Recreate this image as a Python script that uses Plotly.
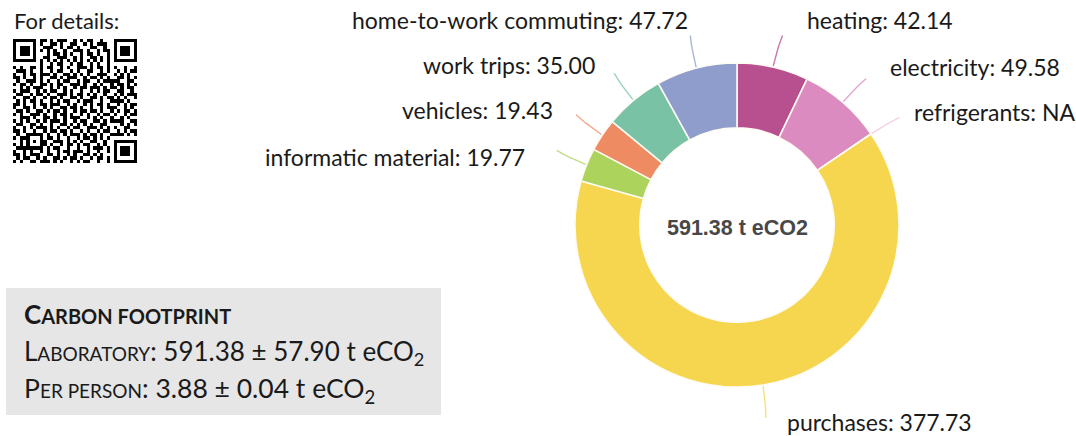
import math
import plotly.graph_objects as go

# ---------------- data ----------------
categories = ["heating", "electricity", "refrigerants", "purchases",
              "informatic material", "vehicles", "work trips",
              "home-to-work commuting"]
values = [42.14, 49.58, 0.0, 377.73, 19.77, 19.43, 35.00, 47.72]
value_text = ["42.14", "49.58", "NA", "377.73", "19.77", "19.43", "35.00", "47.72"]
total_text = "591.38 t eCO2"
lab_total = "591.38 ± 57.90"
per_person = "3.88 ± 0.04"

# ---------------- styles ----------------
slice_colors = ["#b84f8f", "#dc8bc0", "#f2c4dc", "#f7d64f",
                "#acd35c", "#ee8b63", "#79c2a5", "#8e9dcb"]
FONT = "Lato"
TXT = "#1a1a1a"
W, H = 1076, 436
CX, CY, R = 737, 225, 162          # donut centre / radius in pixels
label_pos = {                       # (x, y, anchor) for each outside label
    "heating": (805, 20, "left"),
    "electricity": (888, 67, "left"),
    "refrigerants": (912, 112, "left"),
    "purchases": (785, 422, "left"),
    "informatic material": (527, 157, "right"),
    "vehicles": (555, 110, "right"),
    "work trips": (597, 65, "right"),
    "home-to-work commuting": (690, 20, "right"),
}

# QR code modules (hand transcribed approximation), '#' = dark
qr_rows = [
    "#.##.#..##.#.###..#.#.##..#..###.#.#",
    "..#.###.#..##.#..##..#.#.###.#...##.#",
    "##..#.#..###..#.##.#...##..#.##.#..##",
    ".#.##..##.#.#..#..###.#..#.##..#.##..",
    "#..#.###..#.##.#.#..#.##.#..#.###..##",
    ".##..#.#.##..###..#.#..##.#.#..#.#.#.",
    "#.#.##..#.#.#.#.##..##.#..##.#.##..#.",
    "..##.#.##..#.##..#.##..#.#..##..#.###",
    "#.#..##.#.##..#.#..###.#.##.#.#..#..#",
    ".###.#..#..#.##..#.#..##..#.#.##.#.##",
    "#..#.##.###.#..##.#.#.#..###..#.#.#..",
    "##.#..#.#..##.#.###..#.##.#.#..##.#.#",
    ".#..###.#.#..#.##..#.##..#.###.#..##.",
    "#.##.#..##.#.##..###.#..#.#..#.##.#.#",
    "..#.#.###..#.#.#..#.##.###.#.#..#.##.",
    "#.###..#.#.##..#.#..#..#.#.##.###..#.",
    ".##..#.##.#..###.#.##.#.#..#..#.#.###",
    "#..##.#..#.##.#..##.#..##.#.##.#.#..#",
    ".#.#.##.#..#.#.##..#.###..#..#.##.#..",
    "##.#..#.##.###..#.#..#.#.##.#..#.#.##",
    "#..##.#..#.#..##.##.#..#..#.###..#.#.",
    ".##.#..##.#.##.#..#.##.##.#..#.#.##.#",
    "#.#..###.#..#.##.#..#.#..#.##.#..#.##",
    "..###.#..##.#..#.###..#.#.#..##.#.#..",
    "#.#.#..#.#.###.#..#.##..##.#.#.##..##",
    ".##..##.#..#..##.#.#.#.#..##..#.#.#.#",
    "#..#.#.###.#.#..#.##..###.#.#.#..##..",
    "##.#..#..#.##.##.#..#.#..#.##..#.#.##",
    ".#..##.##.#..#.#.###.#.##.#..#.##.#.#",
    "#.##.#..#.##.#..#..#.##.#.#.#..#..##.",
    "..#.#.##.#..###.#.#.#..##..#.##.#.#.#",
    "#.#..#..##.#..#.##.#.##..#.#..#.##..#",
    ".###.##.#.#.##..#..#..#.###.#..#.#.##",
    "#..#.#..#.#..#.##.###.#..#..##.#..#.#",
    "##.#.###..##.#..#.#..##.#.#..#.##.#..",
    ".#.##..#.#..##.#.##.#..#.##.#.#..##.#",
    "#.#..##.###.#.#..#.#.##..#..##.#.#.##",
]
N = 37
qr = [[1 if c == "#" else 0 for c in (row.ljust(N, ".")[:N])] for row in qr_rows[:N]]


def finder(r0, c0):
    for dr in range(-1, 8):
        for dc in range(-1, 8):
            r, c = r0 + dr, c0 + dc
            if 0 <= r < N and 0 <= c < N:
                if 0 <= dr <= 6 and 0 <= dc <= 6:
                    ring = max(abs(dr - 3), abs(dc - 3))
                    qr[r][c] = 0 if ring == 2 else 1
                else:
                    qr[r][c] = 0


finder(0, 0)
finder(0, N - 7)
finder(N - 7, N - 7)
for i in range(8, N - 8):
    qr[6][i] = 1 if i % 2 == 0 else 0
    qr[i][N - 7] = 1 if i % 2 == 0 else 0
for dr in range(-2, 3):
    for dc in range(-2, 3):
        ring = max(abs(dr), abs(dc))
        qr[N - 7 + dr][6 + dc] = 0 if ring == 1 else 1

fig = go.Figure()

# donut
fig.add_trace(go.Pie(
    labels=categories, values=values, hole=0.6, sort=False,
    direction="clockwise", rotation=0,
    marker=dict(colors=slice_colors, line=dict(color="#fdfbf2", width=1.6)),
    textinfo="none", hoverinfo="label+value", showlegend=False,
    domain=dict(x=[(CX - R) / W, (CX + R) / W],
                y=[(H - CY - R) / H, (H - CY + R) / H]),
))

# leader lines derived from slice angles
tot = sum(values)
cum = 0.0
for name, v, col in zip(categories, values, slice_colors):
    mid = (cum + v / 2) / tot * 2 * math.pi
    cum += v
    xs, ys = [], []
    for k in range(6):
        rr = R + 1 + k * 6.4
        a = mid + (k / 5) ** 2 * 0.012
        xs.append(CX + rr * math.sin(a))
        ys.append(CY - rr * math.cos(a))
    fig.add_trace(go.Scatter(x=xs, y=ys, mode="lines", hoverinfo="skip",
                             line=dict(color=col, width=1.4), opacity=0.75,
                             showlegend=False, xaxis="x", yaxis="y"))

# QR code
fig.add_trace(go.Heatmap(z=qr, colorscale=[[0, "white"], [1, "black"]],
                         showscale=False, hoverinfo="skip",
                         xaxis="x2", yaxis="y2", zmin=0, zmax=1))

annotations = []
for name, vt in zip(categories, value_text):
    x, y, anc = label_pos[name]
    annotations.append(dict(x=x, y=y, xref="x", yref="y", xanchor=anc,
                            yanchor="middle", showarrow=False,
                            text=f"{name}: {vt}",
                            font=dict(family=FONT, size=23, color=TXT)))

annotations.append(dict(x=CX, y=CY + 3, xref="x", yref="y", showarrow=False,
                        text=f"<b>{total_text}</b>",
                        font=dict(family="Liberation Sans", size=21.5, color="#484848")))

annotations.append(dict(x=12, y=20, xref="x", yref="y", xanchor="left",
                        yanchor="middle", showarrow=False, text="For details:",
                        font=dict(family=FONT, size=22, color=TXT)))

sc = 'style="font-size:20px"'
sc2 = 'style="font-size:19px"'
annotations.append(dict(x=22, y=314, xref="x", yref="y", xanchor="left",
                        yanchor="middle", showarrow=False,
                        text=f"<b>C<span {sc}>ARBON FOOTPRINT</span></b>",
                        font=dict(family=FONT, size=26, color=TXT)))
annotations.append(dict(x=22, y=352, xref="x", yref="y", xanchor="left",
                        yanchor="middle", showarrow=False,
                        text=f"L<span {sc2}>ABORATORY</span>: {lab_total} t eCO<sub>2</sub>",
                        font=dict(family=FONT, size=26, color=TXT)))
annotations.append(dict(x=22, y=390, xref="x", yref="y", xanchor="left",
                        yanchor="middle", showarrow=False,
                        text=f"P<span {sc2}>ER PERSON</span>: {per_person} t eCO<sub>2</sub>",
                        font=dict(family=FONT, size=26.5, color=TXT)))

fig.update_layout(
    width=W, height=H, margin=dict(l=0, r=0, t=0, b=0),
    paper_bgcolor="white", plot_bgcolor="rgba(0,0,0,0)",
    xaxis=dict(range=[0, W], domain=[0, 1], visible=False, fixedrange=True),
    yaxis=dict(range=[H, 0], domain=[0, 1], visible=False, fixedrange=True),
    xaxis2=dict(range=[-0.5, N - 0.5], domain=[13 / W, 137 / W], visible=False,
                anchor="y2", fixedrange=True),
    yaxis2=dict(range=[N - 0.5, -0.5], domain=[(H - 163) / H, (H - 39) / H],
                visible=False, anchor="x2", fixedrange=True),
    shapes=[dict(type="rect", xref="x", yref="y", x0=6, x1=441, y0=288, y1=415,
                 fillcolor="#e6e6e6", line=dict(width=0), layer="below")],
    annotations=annotations,
)

fig.write_html("out.html", config={"displayModeBar": False},
               post_script="document.body.style.margin='0';document.body.style.overflow='hidden';")
